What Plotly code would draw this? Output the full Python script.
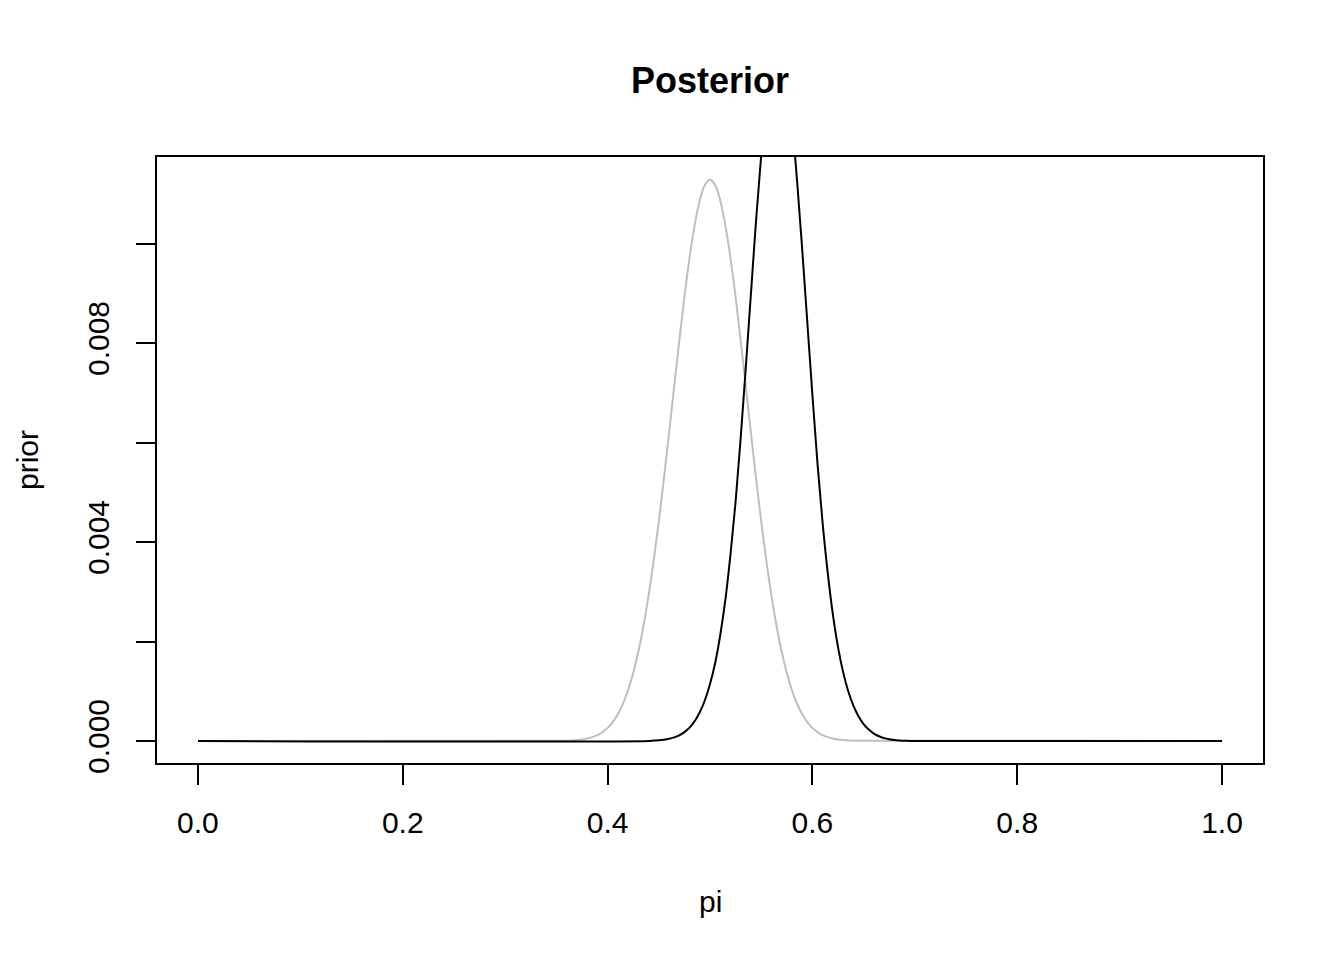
import plotly.graph_objects as go

# prior (grey curve)
prior_pi = [0.0, 0.36, 0.365, 0.37, 0.375, 0.38, 0.385, 0.39, 0.395, 0.40,
            0.405, 0.41, 0.415, 0.42, 0.425, 0.43, 0.435, 0.44, 0.445, 0.45,
            0.455, 0.46, 0.465, 0.47, 0.475, 0.48, 0.485, 0.49, 0.495, 0.50,
            0.505, 0.51, 0.515, 0.52, 0.525, 0.53, 0.535, 0.54, 0.545, 0.55,
            0.555, 0.56, 0.565, 0.57, 0.575, 0.58, 0.585, 0.59, 0.595, 0.60,
            0.605, 0.61, 0.615, 0.62, 0.625, 0.63, 0.635, 0.64, 1.0]
prior = [0.0, 0.0000072, 0.0000121, 0.0000198, 0.000032, 0.0000507, 0.0000789, 0.00012, 0.00018, 0.000264,
         0.000381, 0.00054, 0.000749, 0.001021, 0.001366, 0.001793, 0.002311, 0.002921, 0.003625, 0.004414,
         0.005275, 0.006188, 0.007123, 0.008047, 0.008922, 0.009708, 0.010367, 0.010865, 0.011175, 0.01128,
         0.011175, 0.010865, 0.010367, 0.009708, 0.008922, 0.008047, 0.007123, 0.006188, 0.005275, 0.004414,
         0.003625, 0.002921, 0.002311, 0.001793, 0.001366, 0.001021, 0.000749, 0.00054, 0.000381, 0.000264,
         0.00018, 0.00012, 0.0000789, 0.0000507, 0.000032, 0.0000198, 0.0000121, 0.0000072, 0.0]

# posterior (black curve), goes off the top of the plot
post_pi = [0.0, 0.44, 0.445, 0.45, 0.455, 0.46, 0.465, 0.47, 0.475, 0.48,
           0.485, 0.49, 0.495, 0.50, 0.505, 0.51, 0.515, 0.52, 0.525, 0.53,
           0.535, 0.54, 0.545, 0.55, 0.555, 0.56, 0.565, 0.57, 0.575, 0.58,
           0.585, 0.59, 0.595, 0.60, 0.605, 0.61, 0.615, 0.62, 0.625, 0.63,
           0.635, 0.64, 0.645, 0.65, 0.655, 0.66, 0.665, 0.67, 0.675, 0.68,
           0.685, 0.69, 0.70, 1.0]
posterior = [0.0, 0.0, 0.0000079, 0.0000143, 0.0000256, 0.0000436, 0.0000721, 0.0001152, 0.0001788, 0.00027,
             0.000398, 0.000577, 0.000819, 0.001144, 0.001564, 0.00213, 0.002836, 0.003746, 0.004811, 0.006102,
             0.007522, 0.008999, 0.010468, 0.01177, 0.012835, 0.013576, 0.013933, 0.013839, 0.013328, 0.012445,
             0.011267, 0.009893, 0.008422, 0.006955, 0.005572, 0.004373, 0.003373, 0.00254, 0.001888, 0.001385,
             0.001, 0.000711, 0.000498, 0.000341, 0.00023, 0.00015, 0.0000958, 0.0000587, 0.0000352, 0.0000204,
             0.0000114, 0.0000062, 0.0, 0.0]

x_ticks = [0.0, 0.2, 0.4, 0.6, 0.8, 1.0]
x_labels = ["0.0", "0.2", "0.4", "0.6", "0.8", "1.0"]
y_ticks = [0.0, 0.002, 0.004, 0.006, 0.008, 0.010]
y_labels = ["0.000", "", "0.004", "", "0.008", ""]

fig = go.Figure()
fig.add_trace(go.Scatter(x=prior_pi, y=prior, mode="lines",
                         line=dict(color="#bebebe", width=2, shape="spline", smoothing=1)))
fig.add_trace(go.Scatter(x=post_pi, y=posterior, mode="lines",
                         line=dict(color="black", width=2, shape="spline", smoothing=1)))

# the page body has an 8px margin, so the figure is 8px smaller and left/top margins shrink by 8
font = "Liberation Sans, Arial, Helvetica, sans-serif"
fig.update_layout(
    width=1336, height=952,
    template="simple_white",
    plot_bgcolor="white", paper_bgcolor="white",
    showlegend=False,
    font=dict(family=font, size=30, color="black"),
    margin=dict(l=149, r=81, t=149, b=197),
    title=dict(text="<b>Posterior</b>", font=dict(size=36), x=0.5, xref="paper",
               xanchor="center", y=1 - 72 / 952, yref="container", yanchor="middle"),
    annotations=[
        dict(text="pi", x=0.5, y=0, xref="paper", yref="paper", showarrow=False,
             xanchor="center", yanchor="middle", yshift=-138),
        dict(text="prior", x=0, y=0.5, xref="paper", yref="paper", showarrow=False,
             xanchor="center", yanchor="middle", xshift=-130, textangle=-90),
    ],
)

fig.update_xaxes(range=[-0.04, 1.04], showline=True, mirror=True, linewidth=1.5, linecolor="black",
                 ticks="outside", ticklen=20, tickwidth=1.5, tickcolor="black",
                 tickvals=x_ticks, ticktext=x_labels, showgrid=False, zeroline=False,
                 ticklabelstandoff=12)
fig.update_yaxes(range=[-0.000442, 0.011739], showline=True, mirror=True, linewidth=1.5, linecolor="black",
                 ticks="outside", ticklen=19, tickwidth=1.5, tickcolor="black",
                 tickvals=y_ticks, ticktext=y_labels, tickangle=-90, showgrid=False, zeroline=False,
                 ticklabelstandoff=15)

fig.write_html("out.html")
